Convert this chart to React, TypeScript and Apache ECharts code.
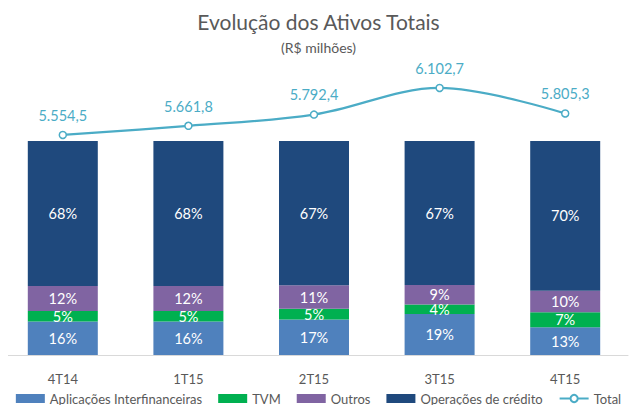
import React, { useEffect, useRef } from "react";
import * as echarts from "echarts";

const categories = ["4T14", "1T15", "2T15", "3T15", "4T15"];
const aplicacoes = [15.6, 15.6, 16.6, 19.2, 13.0];
const tvm = [5.0, 5.0, 5.0, 4.4, 7.0];
const outros = [11.7, 11.7, 11.0, 9.1, 10.0];
const operacoes = [67.7, 67.7, 67.4, 67.3, 70.0];
const total = [5554.5, 5661.8, 5792.4, 6102.7, 5805.3];

const FONT = "Lato";
const GRAY = "#595959";

function fmtBR(v: number): string {
  const fixed = v.toFixed(1);
  const [intPart, dec] = fixed.split(".");
  const withDots = intPart.replace(/\B(?=(\d{3})+(?!\d))/g, ".");
  return withDots + "," + dec;
}

export default function App() {
  const ref = useRef<HTMLDivElement>(null);
  useEffect(() => {
    if (!ref.current) return;
    const chart = echarts.init(ref.current, null, { renderer: "svg" });
    const barLabel = {
      show: true,
      position: "inside" as const,
      color: "#ffffff",
      fontFamily: FONT,
      fontSize: 14.5,
      lineHeight: 13,
      formatter: (p: any) => Math.round(p.value) + "%",
    };
    const mkBar = (name: string, data: number[], color: string) => ({
      name,
      type: "bar",
      stack: "s",
      data,
      barWidth: 70,
      itemStyle: { color },
      label: barLabel,
      yAxisIndex: 0,
    });
    chart.setOption({
      animation: false,
      textStyle: { fontFamily: FONT },
      title: {
        text: "Evolução dos Ativos Totais",
        subtext: "(R$ milhões)",
        left: "center",
        top: 6,
        itemGap: 8,
        textStyle: { fontFamily: FONT, fontSize: 21, fontWeight: "normal", color: GRAY },
        subtextStyle: { fontFamily: FONT, fontSize: 14, color: GRAY },
      },
      legend: {
        top: 387,
        left: "center",
        itemWidth: 29,
        itemHeight: 9,
        itemGap: 16,
        textStyle: { fontFamily: FONT, fontSize: 13, color: GRAY },
        data: [
          { name: "Aplicações Interfinanceiras", icon: "rect" },
          { name: "TVM", icon: "rect" },
          { name: "Outros", icon: "rect" },
          { name: "Operações de crédito", icon: "rect" },
          { name: "Total" },
        ],
      },
      grid: { left: -1, right: 9, top: 60, bottom: 58, containLabel: false },
      xAxis: {
        type: "category",
        data: categories,
        axisLine: { lineStyle: { color: "#D9D9D9" } },
        axisTick: { show: false },
        axisLabel: { color: GRAY, fontFamily: FONT, fontSize: 13, margin: 17 },
      },
      yAxis: [
        { type: "value", min: 0, max: 137.85, show: false },
        { type: "value", min: 2988, max: 6429, show: false },
      ],
      series: [
        mkBar("Aplicações Interfinanceiras", aplicacoes, "#4F81BD"),
        mkBar("TVM", tvm, "#00B050"),
        mkBar("Outros", outros, "#8064A2"),
        mkBar("Operações de crédito", operacoes, "#1F497D"),
        {
          name: "Total",
          type: "line",
          yAxisIndex: 1,
          data: total,
          smooth: 0.35,
          clip: false,
          symbol: "circle",
          symbolSize: 7,
          lineStyle: { color: "#4BACC6", width: 2.25 },
          itemStyle: { color: "#ffffff", borderColor: "#4BACC6", borderWidth: 1.5 },
          label: {
            show: true,
            position: "top",
            distance: 8,
            color: "#4BACC6",
            fontFamily: FONT,
            fontSize: 14.5,
            formatter: (p: any) => fmtBR(p.value),
          },
        },
      ],
    });
    return () => chart.dispose();
  }, []);
  return <div ref={ref} style={{ width: 637, height: 413, margin: -8, background: "#fff" }} />;
}
